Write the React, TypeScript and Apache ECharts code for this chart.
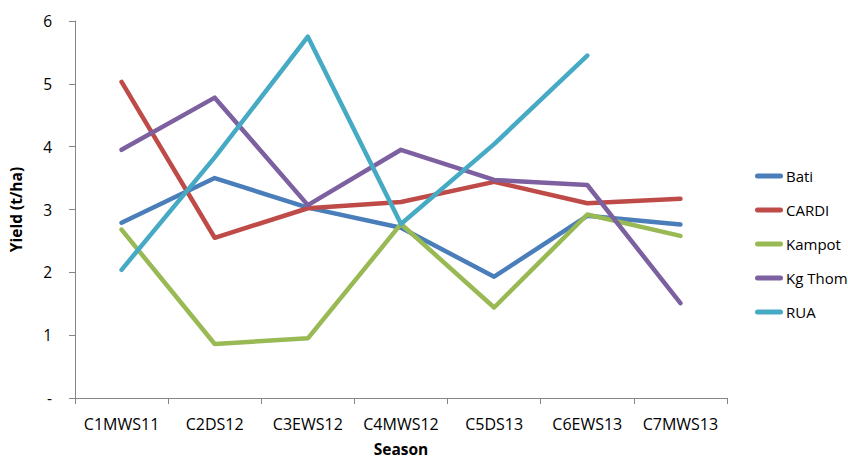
import React, { useEffect, useRef } from "react";
import * as echarts from "echarts";

const categories = ["C1MWS11", "C2DS12", "C3EWS12", "C4MWS12", "C5DS13", "C6EWS13", "C7MWS13"];
const bati = [2.79, 3.5, 3.03, 2.71, 1.93, 2.9, 2.76];
const cardi = [5.03, 2.55, 3.02, 3.12, 3.44, 3.1, 3.17];
const kampot = [2.68, 0.86, 0.95, 2.77, 1.44, 2.92, 2.58];
const kgThom = [3.95, 4.78, 3.07, 3.95, 3.47, 3.39, 1.51];
const rua = [2.04, 3.83, 5.75, 2.77, 4.04, 5.45, null];
const seriesNames = ["Bati", "CARDI", "Kampot", "Kg Thom", "RUA"];
const colors = ["#4A7EBB", "#BE4B48", "#98B954", "#7D60A0", "#46AAC5"];

const FONT = "Open Sans";

export default function App() {
  const ref = useRef<HTMLDivElement>(null);
  useEffect(() => {
    if (!ref.current) return;
    const chart = echarts.init(ref.current, undefined, { renderer: "svg" });
    const data = [bati, cardi, kampot, kgThom, rua];
    chart.setOption({
      animation: false,
      color: colors,
      grid: { left: 70, right: 121, top: 21, bottom: 57, containLabel: false },
      legend: {
        orient: "vertical",
        left: 750,
        top: 163,
        data: seriesNames,
        icon: "path://M2.5,0 H25.5 A2.5,2.5 0 0 1 25.5,5 H2.5 A2.5,2.5 0 0 1 2.5,0 Z",
        itemWidth: 28,
        itemHeight: 5,
        itemGap: 18,
        textStyle: { fontFamily: FONT, fontSize: 15, color: "#000", lineHeight: 16, padding: [0, 0, 0, -2] },
      },
      xAxis: {
        type: "category",
        data: categories,
        boundaryGap: true,
        name: "Season",
        nameLocation: "middle",
        nameGap: 43,
        nameTextStyle: { fontFamily: FONT, fontSize: 15.5, fontWeight: "bold", color: "#000" },
        axisLine: { lineStyle: { color: "#868686", width: 1 } },
        axisTick: { show: true, length: 6, alignWithLabel: false, lineStyle: { color: "#868686" } },
        axisLabel: { fontFamily: FONT, fontSize: 16, color: "#000", margin: 18, interval: 0 },
        splitLine: { show: false },
      },
      yAxis: {
        type: "value",
        min: 0,
        max: 6,
        interval: 1,
        name: "Yield (t/ha)",
        nameLocation: "middle",
        nameGap: 51,
        nameRotate: 90,
        nameTextStyle: { fontFamily: FONT, fontSize: 15.5, fontWeight: "bold", color: "#000" },
        axisLine: { show: true, lineStyle: { color: "#868686", width: 1 } },
        axisTick: { show: true, length: 6, lineStyle: { color: "#868686" } },
        axisLabel: {
          fontFamily: FONT,
          fontSize: 15.5,
          color: "#000",
          margin: 23,
          formatter: (v: number) => (v === 0 ? "-" : String(v)),
        },
        splitLine: { show: false },
      },
      series: data.map((d, i) => ({
        name: seriesNames[i],
        type: "line",
        data: d,
        symbol: "none",
        showSymbol: false,
        connectNulls: false,
        lineStyle: { width: 4.5, color: colors[i], cap: "round", join: "round" },
        itemStyle: { color: colors[i] },
      })),
    });
    return () => chart.dispose();
  }, []);
  return <div ref={ref} style={{ width: 848, height: 462, position: "absolute", left: 0, top: 0 }} />;
}
